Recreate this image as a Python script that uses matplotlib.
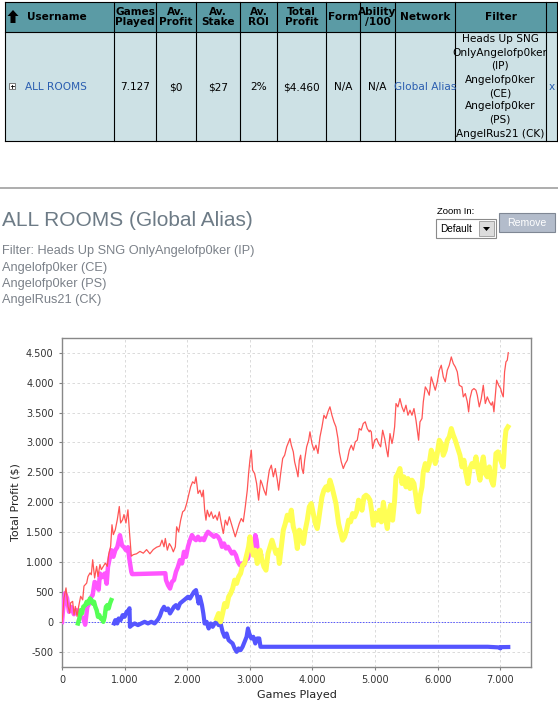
import matplotlib
matplotlib.use("Agg")
import matplotlib.pyplot as plt
from matplotlib.patches import Rectangle, Polygon
from matplotlib.ticker import FuncFormatter, MultipleLocator

# table content
col_edges = [5, 114, 156, 196, 240, 277, 326, 360, 395, 455, 546, 557]
header_labels = ["Username", "Games\nPlayed", "Av.\nProfit", "Av.\nStake", "Av.\nROI",
                 "Total\nProfit", "Form", "Ability\n/100", "Network", "Filter", ""]
row_values = ["ALL ROOMS", "7.127", "$0", "$27", "2%", "$4.460", "N/A", "N/A",
              "Global Alias", "", "x"]
filter_lines = ["Heads Up SNG", "OnlyAngelofp0ker", "(IP)", "Angelofp0ker", "(CE)",
                "Angelofp0ker", "(PS)", "AngelRus21 (CK)"]

title = "ALL ROOMS (Global Alias)"
filter_text = ["Filter: Heads Up SNG OnlyAngelofp0ker (IP)", "Angelofp0ker (CE)",
               "Angelofp0ker (PS)", "AngelRus21 (CK)"]

# total profit (all rooms)
red_x = [0, 10, 32, 64, 96, 122, 138, 170, 192, 213, 240, 266, 298, 330, 351, 394, 415, 447, 468, 490,
         521, 553, 575, 606, 628, 660, 692, 723, 745, 777, 798, 820, 851, 883, 915, 936, 968, 990, 1021, 1053,
         1075, 1107, 1138, 1191, 1245, 1298, 1351, 1404, 1457, 1511, 1564, 1597, 1629, 1650, 1682, 1714, 1746, 1778, 1810, 1831,
         1863, 1895, 1927, 1959, 1991, 2023, 2054, 2086, 2118, 2140, 2172, 2203, 2235, 2257, 2278, 2299, 2320, 2352, 2384, 2416,
         2448, 2480, 2512, 2544, 2576, 2608, 2640, 2672, 2704, 2735, 2767, 2799, 2831, 2863, 2895, 2927, 2959, 2980, 3001, 3023,
         3044, 3076, 3108, 3140, 3172, 3194, 3226, 3258, 3279, 3311, 3343, 3375, 3407, 3439, 3460, 3492, 3524, 3556, 3588, 3620,
         3641, 3662, 3694, 3715, 3747, 3769, 3790, 3811, 3832, 3854, 3875, 3907, 3939, 3960, 3992, 4024, 4056, 4088, 4120, 4152,
         4183, 4215, 4247, 4279, 4311, 4343, 4375, 4407, 4428, 4460, 4492, 4524, 4556, 4588, 4620, 4652, 4684, 4715, 4747, 4779,
         4811, 4843, 4875, 4907, 4919, 4940, 4961, 4993, 5025, 5057, 5089, 5121, 5153, 5185, 5206, 5238, 5270, 5291, 5312, 5334,
         5365, 5397, 5429, 5461, 5493, 5525, 5557, 5589, 5621, 5653, 5674, 5695, 5717, 5749, 5770, 5802, 5833, 5865, 5897, 5929,
         5961, 5993, 6025, 6057, 6089, 6121, 6153, 6185, 6217, 6249, 6281, 6313, 6344, 6388, 6409, 6441, 6473, 6494, 6515, 6547,
         6579, 6611, 6632, 6664, 6696, 6728, 6760, 6792, 6824, 6856, 6877, 6898, 6919, 6941, 6973, 7005, 7026, 7047, 7068, 7090,
         7111, 7127]
red_y = [0, 95, 400, 570, 260, 150, 320, 345, 120, 260, 95, 260, 430, 370, 600, 650, 760, 820, 790, 1040,
         735, 930, 760, 960, 875, 930, 985, 930, 1125, 1265, 1625, 1460, 1540, 1710, 1930, 1655, 1710, 1795, 1655, 1875,
         1540, 1100, 1125, 1140, 1180, 1150, 1210, 1140, 1210, 1250, 1270, 1368, 1257, 1396, 1201, 1312, 1257, 1173, 1257, 1591,
         1507, 1702, 1841, 1869, 1981, 2120, 2259, 2343, 2315, 2426, 2148, 2203, 2092, 2203, 1869, 1702, 1869, 1758, 1841, 1730,
         1786, 1702, 1841, 1647, 1479, 1702, 1619, 1758, 1647, 1535, 1424, 1535, 1647, 1730, 1675, 1925, 2203, 2482, 2705, 2872,
         2538, 2482, 2315, 2036, 2371, 2314, 2203, 2119, 2314, 2537, 2621, 2426, 2565, 2370, 2203, 2481, 2732, 2788, 2927, 3011,
         3066, 2955, 2843, 2676, 2537, 2426, 2704, 2788, 2565, 2481, 2704, 2927, 3038, 3178, 2983, 2871, 2955, 2816, 3094, 3261,
         3456, 3401, 3512, 3596, 3456, 3345, 3261, 3066, 2843, 2676, 2565, 2648, 2704, 2871, 2955, 2871, 3011, 3038, 3233, 3206,
         3317, 3345, 3233, 3178, 3205, 3177, 2899, 3038, 3066, 2982, 2927, 3205, 3066, 2871, 2760, 3149, 2982, 3094, 3261, 3651,
         3595, 3734, 3595, 3511, 3623, 3456, 3539, 3456, 3567, 3372, 3205, 3038, 3344, 3400, 3678, 3929, 3873, 3790, 4096, 3985,
         3873, 4013, 4208, 4291, 4096, 4013, 4208, 4291, 4430, 4319, 4263, 4180, 3957, 3929, 3762, 3818, 3679, 3511, 3734, 3873,
         3901, 3873, 3790, 3595, 3734, 3957, 3651, 3762, 3679, 3623, 3679, 3511, 3762, 4041, 3957, 3901, 3818, 3762, 4180, 4347,
         4375, 4500]

# room series
pink_x = [0, 16, 48, 80, 112, 150, 190, 230, 270, 300, 340, 370, 404, 436, 468, 490, 521, 553, 585, 606,
          638, 681, 713, 734, 766, 787, 820, 851, 883, 925, 958, 990, 1021, 1053, 1075, 1107, 1120, 1650, 1661, 1693,
          1725, 1757, 1788, 1820, 1852, 1884, 1916, 1948, 1980, 2012, 2044, 2076, 2108, 2140, 2172, 2203, 2235, 2267, 2299, 2331,
          2363, 2395, 2427, 2459, 2491, 2523, 2555, 2587, 2619, 2651, 2682, 2714, 2746, 2778, 2810, 2842, 2874, 2906, 2938, 2970,
          2991, 3012, 3033, 3055, 3087, 3108, 3129, 3150, 3172]
pink_y = [0, 200, 480, 400, 170, 250, 130, 200, 150, 100, 60, -45, 250, 310, 420, 450, 670, 640, 540, 810,
          750, 810, 640, 920, 1090, 1200, 1090, 1200, 1250, 1450, 1280, 1250, 1200, 1250, 1060, 840, 800, 815, 700, 616,
          560, 672, 700, 839, 922, 1034, 978, 1173, 1089, 1257, 1368, 1452, 1396, 1368, 1424, 1368, 1396, 1368, 1452, 1507,
          1479, 1452, 1424, 1452, 1424, 1368, 1257, 1312, 1229, 1257, 1201, 1145, 1173, 1117, 1006, 950, 978, 950, 1034, 1062,
          1201, 1257, 1150, 1173, 1452, 1368, 1145, 1089, 1117]

green_x = [255, 277, 298, 319, 340, 372, 394, 415, 447, 468, 489, 511, 532, 553, 575, 596, 617, 638, 660, 681,
           702, 724, 745, 766, 787]
green_y = [-24, 59, 198, 143, 254, 282, 338, 310, 393, 366, 310, 338, 254, 198, 87, 115, 59, 59, 3, 87,
           254, 282, 226, 310, 366]

blue_x = [830, 851, 883, 904, 936, 968, 1000, 1032, 1064, 1078, 1085, 1117, 1160, 1213, 1266, 1319, 1373, 1426, 1479, 1532,
          1564, 1597, 1629, 1661, 1693, 1725, 1757, 1788, 1820, 1852, 1884, 1916, 1948, 1980, 2012, 2044, 2076, 2108, 2140, 2161,
          2182, 2203, 2235, 2257, 2278, 2310, 2342, 2374, 2406, 2437, 2469, 2501, 2533, 2565, 2597, 2629, 2661, 2693, 2725, 2757,
          2789, 2820, 2852, 2884, 2916, 2948, 2970, 2991, 3023, 3055, 3087, 3118, 3150, 3170, 6800, 6990, 7000, 7010, 7127]
blue_y = [-24, 31, -24, 59, 31, 115, 87, 170, 198, 230, -80, -52, -24, -52, -24, 3, -24, 3, -24, 40,
          100, 198, 254, 198, 226, 143, 198, 254, 282, 226, 310, 338, 365, 393, 421, 393, 449, 505, 533, 421,
          310, 421, 282, 143, -25, 3, -108, -25, -80, -25, 3, -52, -25, -164, -247, -192, -303, -331, -359, -442,
          -498, -442, -470, -414, -331, -247, -108, -192, -275, -247, -359, -275, -275, -414, -414, -425, -440, -420, -418]

yellow_x = [2469, 2501, 2533, 2565, 2597, 2629, 2661, 2693, 2725, 2757, 2789, 2820, 2852, 2884, 2916, 2948, 2980, 3001, 3023, 3055,
            3087, 3118, 3150, 3162, 3194, 3226, 3258, 3290, 3322, 3354, 3385, 3417, 3449, 3471, 3503, 3534, 3566, 3598, 3630, 3662,
            3694, 3726, 3758, 3790, 3822, 3854, 3885, 3917, 3949, 3981, 4013, 4045, 4077, 4098, 4120, 4152, 4183, 4215, 4247, 4279,
            4311, 4343, 4375, 4396, 4417, 4449, 4481, 4513, 4545, 4577, 4609, 4641, 4673, 4705, 4736, 4768, 4791, 4823, 4855, 4887,
            4919, 4951, 4972, 5004, 5036, 5068, 5100, 5132, 5164, 5195, 5217, 5248, 5280, 5312, 5334, 5365, 5397, 5429, 5461, 5493,
            5525, 5557, 5589, 5621, 5653, 5674, 5695, 5717, 5749, 5770, 5802, 5833, 5865, 5897, 5929, 5961, 5993, 6025, 6057, 6089,
            6121, 6153, 6185, 6217, 6249, 6281, 6313, 6356, 6388, 6419, 6451, 6483, 6515, 6547, 6579, 6611, 6643, 6675, 6707, 6728,
            6760, 6792, 6824, 6856, 6888, 6909, 6930, 6962, 6994, 7026, 7047, 7068, 7090, 7122]
yellow_y = [59, 142, 3, 142, 310, 254, 421, 477, 560, 700, 644, 755, 811, 950, 978, 1117, 1257, 1424, 1257, 1117,
            1201, 978, 1117, 1200, 1033, 922, 866, 1145, 1256, 1367, 1256, 1145, 1200, 978, 1256, 1535, 1646, 1785, 1702, 1869,
            1590, 1479, 1228, 1535, 1479, 1312, 1535, 1702, 1924, 1980, 1813, 1646, 1562, 1702, 1869, 2091, 2203, 2259, 2203, 2370,
            2259, 2119, 1980, 1813, 1646, 1507, 1367, 1423, 1535, 1702, 1674, 1813, 1757, 1841, 2036, 1952, 1868, 2091, 2119, 2091,
            2035, 1813, 1618, 1813, 1701, 1868, 1673, 2000, 1757, 1562, 1813, 1952, 1701, 2035, 2425, 2481, 2565, 2314, 2425, 2258,
            2397, 2230, 2370, 2314, 2091, 1924, 1840, 2091, 2258, 2509, 2648, 2537, 2648, 2871, 2787, 2648, 2815, 3038, 2982, 2787,
            2871, 3038, 3094, 3233, 3122, 3038, 2927, 2787, 2592, 2704, 2481, 2314, 2565, 2648, 2592, 2759, 2537, 2370, 2648, 2759,
            2481, 2425, 2592, 2370, 2286, 2481, 2815, 2843, 2732, 2648, 2592, 2982, 3205, 3261]

W, H = 558, 704
fig = plt.figure(figsize=(W / 100, H / 100), dpi=100)
page = fig.add_axes([0, 0, 1, 1])
page.set_xlim(0, W)
page.set_ylim(H, 0)
page.axis("off")

# ---- table ----
head_bg = "#5b9ba5"
body_bg = "#cde1e5"
link = "#2a5db0"
top, mid, bot = 2, 32, 141
page.add_patch(Rectangle((col_edges[0], top), col_edges[-1] - col_edges[0], mid - top,
                         facecolor=head_bg, edgecolor="none"))
page.add_patch(Rectangle((col_edges[0], mid), col_edges[-1] - col_edges[0], bot - mid,
                         facecolor=body_bg, edgecolor="none"))
for xe in col_edges:
    page.plot([xe, xe], [top, bot], color="black", lw=0.8)
for ye in (top, mid, bot):
    page.plot([col_edges[0], col_edges[-1]], [ye, ye], color="black", lw=0.8)

for i, lab in enumerate(header_labels):
    cx = (col_edges[i] + col_edges[i + 1]) / 2
    if i == 0:
        cx = 57
    page.text(cx, 17, lab, ha="center", va="center", fontsize=7.6, fontweight="bold",
              linespacing=1.05, family="DejaVu Sans")
# sort arrow
page.add_patch(Polygon([[13, 10], [7.5, 16], [10.5, 16], [10.5, 23], [15.5, 23], [15.5, 16], [18.5, 16]],
                       closed=True, facecolor="black", edgecolor="none"))

for i, val in enumerate(row_values):
    cx = (col_edges[i] + col_edges[i + 1]) / 2
    color = link if i in (0, 8, 10) else "black"
    if i == 0:
        page.text(25, 87, val, ha="left", va="center", fontsize=7.6, color=color)
    else:
        page.text(cx, 87, val, ha="center", va="center", fontsize=7.6, color=color)
page.add_patch(Rectangle((9, 83), 6, 6, facecolor="white", edgecolor="#666666", lw=0.6))
page.plot([10.5, 13.5], [86, 86], color="black", lw=0.6)
page.plot([12, 12], [84.5, 87.5], color="black", lw=0.6)

fy = [39, 53, 66, 80, 93, 106, 120, 134]
for y, line in zip(fy, filter_lines):
    page.text(500, y, line, ha="center", va="center", fontsize=7.6)

# separator
page.plot([0, W], [188, 188], color="#a0a0a0", lw=1.2)

# title area
page.text(2, 221, title, ha="left", va="center", fontsize=15, color="#6d7b86",
          family="Liberation Sans")
for k, line in enumerate(filter_text):
    page.text(2, 251 + k * 16.5, line, ha="left", va="center", fontsize=9.2, color="#7b8189",
              family="Liberation Sans")

# zoom widget
page.text(437, 212, "Zoom In:", ha="left", va="center", fontsize=6.8, family="Liberation Sans")
page.add_patch(Rectangle((436, 219), 60, 19, facecolor="white", edgecolor="#8a8a8a", lw=0.8))
page.text(440, 228.5, "Default", ha="left", va="center", fontsize=7.2, family="Liberation Sans")
page.add_patch(Rectangle((479, 221), 15, 15, facecolor="#dcdcdc", edgecolor="#9a9a9a", lw=0.6))
page.add_patch(Polygon([[483, 227], [490, 227], [486.5, 231]], closed=True, facecolor="black"))
page.add_patch(Rectangle((499, 213), 56, 19, facecolor="#b3bccb", edgecolor="#7f8794", lw=0.8))
page.text(527, 222.5, "Remove", ha="center", va="center", fontsize=7.6, color="white",
          family="Liberation Sans")

# ---- chart ----
ax = fig.add_axes([62 / W, 1 - 667 / H, 469 / W, 329 / H])
ax.set_facecolor("white")
ax.set_xlim(0, 7490)
ax.set_ylim(-752, 4746)
ax.xaxis.set_major_locator(MultipleLocator(1000))
ax.yaxis.set_major_locator(MultipleLocator(500))
ax.grid(True, color="#d4d4d4", lw=0.6, linestyle=(0, (3, 3)))
ax.set_axisbelow(True)
ax.axhline(0, color="#5555ff", lw=0.7, linestyle=(0, (1.5, 1.5)), zorder=2)

ax.plot(pink_x, pink_y, color="#ff55ff", lw=3.2, zorder=3)
ax.plot(green_x, green_y, color="#55ff55", lw=3.2, zorder=3)
ax.plot(blue_x, blue_y, color="#5555ff", lw=3.0, zorder=3)
ax.plot(yellow_x, yellow_y, color="#ffff55", lw=3.6, zorder=4)
ax.plot(red_x, red_y, color="#ff5555", lw=0.9, zorder=5)

fmt = FuncFormatter(lambda v, p: f"{int(v):,}".replace(",", "."))
ax.xaxis.set_major_formatter(fmt)
ax.yaxis.set_major_formatter(fmt)
ax.tick_params(labelsize=7, colors="#808080", labelcolor="#333333", length=2.5, width=0.8)
for s in ax.spines.values():
    s.set_color("#888888")
    s.set_linewidth(1.0)
ax.set_xlabel("Games Played", fontsize=8, color="#222222", labelpad=3)
ax.set_ylabel("Total Profit ($)", fontsize=8, color="#222222", labelpad=4)

fig.savefig("out.png", dpi=100)
